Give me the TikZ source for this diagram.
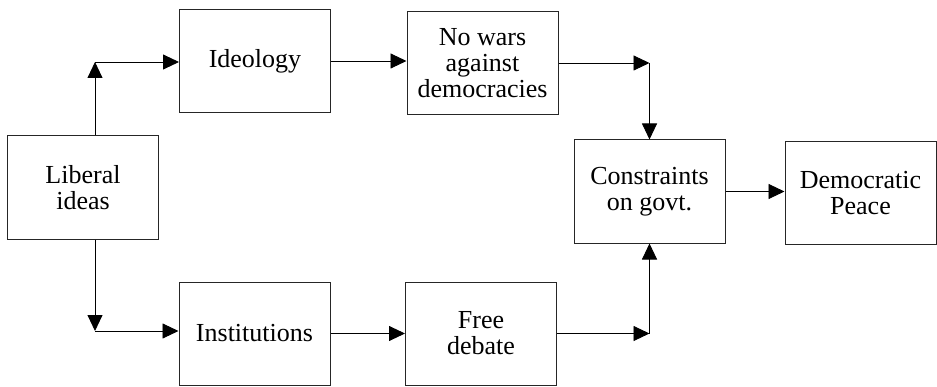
\documentclass[tikz,border=0pt]{standalone}
\usepackage{fontspec}
\setmainfont{Liberation Serif}
\usetikzlibrary{arrows.meta}
\begin{document}
\begin{tikzpicture}[x=1pt,y=1pt,
  boxnode/.style={draw=black!85,line width=1pt,rectangle,minimum width=151pt,minimum height=103pt,align=center,font=\fontsize{26}{26}\selectfont,inner sep=0pt},
  arr/.style={line width=0.9pt,-{Triangle[length=16pt,width=15pt]}}]
\useasboundingbox (0,0) rectangle (937,386);
\node[boxnode] (lib) at (83,198.5) {Liberal\\ideas};
\node[boxnode] (ideo) at (255,325) {Ideology};
\node[boxnode] (nowar) at (482.5,323) {No wars\\against\\democracies};
\node[boxnode] (cons) at (649.5,194.5) {Constraints\\on govt.};
\node[boxnode] (dem) at (860.5,193) {Democratic\\Peace};
\node[boxnode] (inst) at (254.5,52.5) {Institutions};
\node[boxnode] (free) at (481,52.5) {Free\\debate};
\coordinate (tl) at (95,324);
\coordinate (bl) at (95,55);
\coordinate (tr) at (cons.north |- nowar.east);
\coordinate (br) at (cons.south |- free.east);
\draw[arr] ([xshift=12pt]lib.north) -- (tl);
\draw[arr] (tl) -- (tl -| ideo.west);
\draw[arr] ([xshift=12pt]lib.south) -- (bl);
\draw[arr] (bl) -- (bl -| inst.west);
\draw[arr] (ideo.east) -- (ideo.east -| nowar.west);
\draw[arr] (inst.east) -- (inst.east -| free.west);
\draw[arr] (nowar.east) -- (tr);
\draw[arr] (tr) -- (cons.north);
\draw[arr] (free.east) -- (br);
\draw[arr] (br) -- (cons.south);
\draw[arr] (cons.east) -- (cons.east -| dem.west);
\end{tikzpicture}
\end{document}
